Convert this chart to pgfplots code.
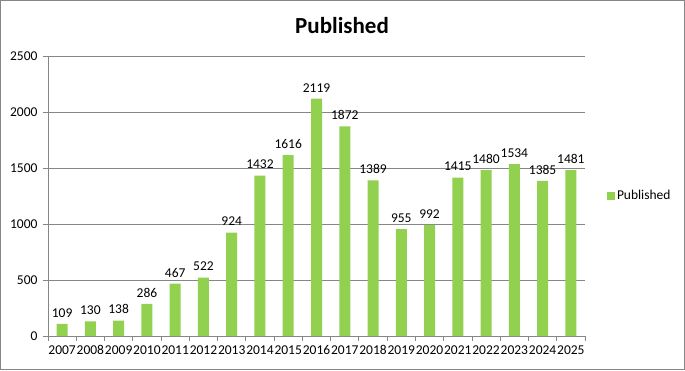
\documentclass[border=0pt]{standalone}
\usepackage{fontspec}
\setmainfont{Carlito}
\usepackage{pgfplots}
\pgfplotsset{compat=1.18}
\definecolor{barg}{HTML}{92D050}
\definecolor{axg}{HTML}{868686}
\begin{document}
\begin{tikzpicture}[x=1pt,y=1pt]
\draw[axg,line width=1pt] (0.5,0.5) rectangle (684.5,369.5);
\node[font=\fontsize{23}{25}\selectfont\bfseries] at (342,344) {Published};
\begin{axis}[
  at={(48pt,34pt)}, anchor=south west,
  scale only axis, width=537pt, height=280pt,
  ymin=0, ymax=2500, ytick={0,500,...,2500},
  xmin=-0.5, xmax=18.5,
  xtick={0,...,18},
  xticklabels={2007,2008,2009,2010,2011,2012,2013,2014,2015,2016,2017,2018,2019,2020,2021,2022,2023,2024,2025},
  minor xtick={-0.5,0.5,...,18.5},
  major x tick style={draw=none},
  minor tick length=5pt, major tick length=5pt,
  tick align=outside,
  axis x line*=bottom, axis y line*=left,
  axis line style={axg, line width=0.8pt, -},
  every tick/.style={axg, line width=0.8pt},
  ymajorgrids, major grid style={axg, line width=0.8pt},
  ybar, bar width=11pt,
  /pgf/number format/1000 sep={},
  /pgf/number format/assume math mode=true,
  tick label style={font=\fontsize{13.5}{15}\selectfont, black},
  yticklabel style={xshift=-2pt},
  xticklabel style={yshift=-1pt},
  nodes near coords,
  every node near coord/.append style={font=\fontsize{13.5}{15}\selectfont, black, yshift=3pt},
  legend style={at={(1.035,0.5)}, anchor=west, draw=none, fill=none, font=\fontsize{13.5}{15}\selectfont, legend cell align=left},
  legend image code/.code={\fill[barg] (0pt,-4pt) rectangle (8pt,4pt);},
]
\addplot[fill=barg, draw=none] coordinates {
(0,109) (1,130) (2,138) (3,286) (4,467) (5,522) (6,924) (7,1432) (8,1616) (9,2119)
(10,1872) (11,1389) (12,955) (13,992) (14,1415) (15,1480) (16,1534) (17,1385) (18,1481)};
\addlegendentry{Published}
\end{axis}
\end{tikzpicture}
\end{document}
